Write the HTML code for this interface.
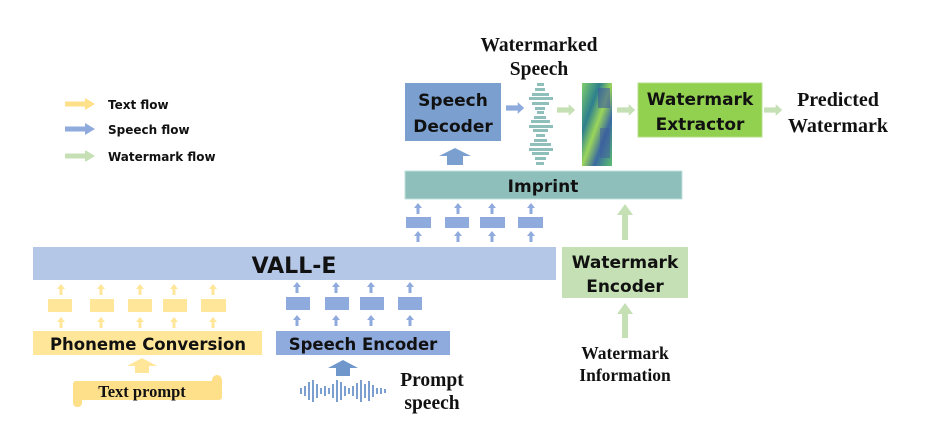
<!DOCTYPE html>
<html><head><meta charset="utf-8"><style>
html,body{margin:0;padding:0;background:#fff;}
svg{display:block}
.s{font-family:"DejaVu Sans","Liberation Sans",sans-serif;font-weight:bold;fill:#111}
.r{font-family:"Liberation Serif",serif;font-weight:bold;fill:#111}
</style></head><body>
<svg width="931" height="445" viewBox="0 0 931 445" xmlns="http://www.w3.org/2000/svg">
<defs>
<g id="ua"><polygon points="0,0 4,5 1.5,5 1.5,11 -1.5,11 -1.5,5 -4,5"/></g>
<g id="ra"><polygon points="0,-2.5 20,-2.5 20,-6 30,0 20,6 20,2.5 0,2.5"/></g>
</defs>
<use href="#ra" x="65" y="104" fill="#ffe08a"/>
<use href="#ra" x="65" y="129" fill="#8faadc"/>
<use href="#ra" x="65" y="156" fill="#c5e0b4"/>
<text class="s" x="108" y="109" font-size="12">Text flow</text>
<text class="s" x="108" y="134" font-size="12">Speech flow</text>
<text class="s" x="108" y="161" font-size="12">Watermark flow</text>

<rect x="33" y="247" width="523" height="33" fill="#b4c7e7"/>
<text class="s" x="294" y="273" font-size="22" text-anchor="middle">VALL-E</text>

<g fill="#ffe699">
<rect x="48" y="299" width="24" height="13"/><rect x="90" y="299" width="24" height="13"/><rect x="128" y="299" width="24" height="13"/><rect x="163" y="299" width="24" height="13"/><rect x="201" y="299" width="25" height="13"/>
<use href="#ua" x="61" y="284"/><use href="#ua" x="101" y="284"/><use href="#ua" x="140" y="284"/><use href="#ua" x="174" y="284"/><use href="#ua" x="213" y="284"/>
<use href="#ua" x="61" y="317"/><use href="#ua" x="101" y="317"/><use href="#ua" x="140" y="317"/><use href="#ua" x="174" y="317"/><use href="#ua" x="213" y="317"/>
</g>
<g fill="#8faadc">
<rect x="286" y="297" width="24" height="13"/><rect x="325" y="297" width="24" height="13"/><rect x="360" y="297" width="24" height="13"/><rect x="398" y="297" width="24" height="13"/>
<use href="#ua" x="297" y="282"/><use href="#ua" x="336" y="282"/><use href="#ua" x="371" y="282"/><use href="#ua" x="410" y="282"/>
<use href="#ua" x="297" y="315"/><use href="#ua" x="336" y="315"/><use href="#ua" x="371" y="315"/><use href="#ua" x="410" y="315"/>
</g>

<rect x="33" y="331" width="229" height="24" fill="#ffe699"/>
<text class="s" x="148" y="350" font-size="16.5" text-anchor="middle">Phoneme Conversion</text>
<rect x="276" y="331" width="174" height="24" fill="#8faadc"/>
<text class="s" x="363" y="350" font-size="16.5" text-anchor="middle">Speech Encoder</text>

<polygon points="142,358 157,366 149,366 149,373 135,373 135,366 127,366" fill="#ffe699"/>
<polygon points="343,360 358,368 350,368 350,376 336,376 336,368 328,368" fill="#6f97cb"/>

<g fill="#ffe08a">
<rect x="73" y="381" width="149" height="19" rx="3"/>
<rect x="73" y="381" width="9" height="26" rx="4"/>
<rect x="212" y="375" width="10" height="22" rx="5"/>
</g>
<text class="r" x="142" y="397" font-size="16.5" text-anchor="middle">Text prompt</text>

<g fill="#7ba0d0">
<rect x="300" y="388" width="2" height="6"/><rect x="304" y="386" width="2" height="10"/><rect x="308" y="382" width="2" height="18"/><rect x="312" y="380" width="2" height="22"/><rect x="316" y="384" width="2" height="14"/><rect x="320" y="388" width="2" height="6"/><rect x="324" y="386" width="2" height="10"/><rect x="328" y="388" width="2" height="6"/><rect x="332" y="384" width="2" height="14"/><rect x="336" y="380" width="2" height="22"/><rect x="340" y="382" width="2" height="18"/><rect x="344" y="386" width="2" height="10"/><rect x="348" y="388" width="2" height="6"/><rect x="352" y="386" width="2" height="10"/><rect x="356" y="383" width="2" height="16"/><rect x="360" y="380" width="2" height="22"/><rect x="364" y="384" width="2" height="14"/><rect x="368" y="381" width="2" height="20"/><rect x="372" y="385" width="2" height="12"/><rect x="376" y="388" width="2" height="6"/><rect x="380" y="388" width="2" height="6"/><rect x="384" y="389" width="2" height="4"/>
</g>
<text class="r" x="432" y="386" font-size="19.5" text-anchor="middle">Prompt</text>
<text class="r" x="432" y="409" font-size="19.5" text-anchor="middle">speech</text>

<g fill="#8faadc">
<rect x="406" y="217" width="25" height="11"/><rect x="445" y="217" width="24" height="11"/><rect x="480" y="217" width="25" height="11"/><rect x="518" y="217" width="25" height="11"/>
<use href="#ua" x="418" y="203"/><use href="#ua" x="458" y="203"/><use href="#ua" x="492" y="203"/><use href="#ua" x="531" y="203"/>
<use href="#ua" x="418" y="231"/><use href="#ua" x="458" y="231"/><use href="#ua" x="492" y="231"/><use href="#ua" x="531" y="231"/>
</g>

<rect x="405" y="171" width="277" height="28" fill="#8fbfbb" stroke="#bfe0dc" stroke-width="1"/>
<text class="s" x="543" y="192" font-size="17" text-anchor="middle">Imprint</text>
<polygon points="455,148 471,156 463,156 463,165 447,165 447,156 439,156" fill="#7ba0d0"/>

<rect x="405" y="83" width="96" height="58" fill="#7ba0d0"/>
<text class="s" x="453" y="106" font-size="17" text-anchor="middle">Speech</text>
<text class="s" x="453" y="132" font-size="17" text-anchor="middle">Decoder</text>

<text class="r" x="539" y="51" font-size="19.5" text-anchor="middle">Watermarked</text>
<text class="r" x="539" y="75" font-size="19.5" text-anchor="middle">Speech</text>

<g transform="translate(506,108) scale(0.65)" fill="#8faadc"><polygon points="0,-4 18,-4 18,-9 28,0 18,9 18,4 0,4"/></g>
<g transform="translate(557,110) scale(0.65)" fill="#c5e0b4"><polygon points="0,-4 18,-4 18,-9 28,0 18,9 18,4 0,4"/></g>
<g transform="translate(617,110) scale(0.65)" fill="#c5e0b4"><polygon points="0,-4 18,-4 18,-9 28,0 18,9 18,4 0,4"/></g>
<g transform="translate(764,110) scale(0.65)" fill="#c5e0b4"><polygon points="0,-4 18,-4 18,-9 28,0 18,9 18,4 0,4"/></g>

<g fill="#8fbfbb">
<rect x="537" y="83" width="7" height="3"/><rect x="535" y="88" width="10" height="3"/><rect x="532" y="93" width="17" height="3"/><rect x="529" y="97" width="24" height="3"/><rect x="532" y="102" width="17" height="3"/><rect x="535" y="107" width="10" height="3"/><rect x="537" y="111" width="7" height="3"/><rect x="534" y="116" width="12" height="3"/><rect x="531" y="120" width="19" height="3"/><rect x="529" y="125" width="24" height="3"/><rect x="533" y="129" width="15" height="3"/><rect x="536" y="134" width="9" height="3"/><rect x="534" y="139" width="13" height="3"/><rect x="530" y="143" width="21" height="3"/><rect x="529" y="148" width="24" height="3"/><rect x="532" y="152" width="17" height="3"/><rect x="535" y="157" width="11" height="3"/><rect x="536" y="162" width="8" height="3"/>
</g>

<defs><linearGradient id="sp" x1="0" y1="0" x2="1" y2="1">
<stop offset="0" stop-color="#7fd06a"/><stop offset="0.3" stop-color="#2d7f8e"/><stop offset="0.5" stop-color="#9bd65a"/><stop offset="0.7" stop-color="#3b6aa0"/><stop offset="1" stop-color="#5cbf70"/></linearGradient></defs>
<rect x="582" y="83" width="30" height="83" fill="url(#sp)"/>
<rect x="598" y="88" width="12" height="20" fill="#3d5a9e" opacity="0.6"/>
<rect x="600" y="128" width="10" height="30" fill="#3d5a9e" opacity="0.5"/>

<rect x="638" y="83" width="124" height="54" fill="#92d050" stroke="#b6e08a"/>
<text class="s" x="700" y="105" font-size="17" text-anchor="middle">Watermark</text>
<text class="s" x="700" y="130" font-size="17" text-anchor="middle">Extractor</text>
<text class="r" x="838" y="106" font-size="20" text-anchor="middle">Predicted</text>
<text class="r" x="838" y="132" font-size="20" text-anchor="middle">Watermark</text>

<rect x="562" y="247" width="126" height="51" fill="#c5e0b4"/>
<text class="s" x="625" y="268" font-size="17" text-anchor="middle">Watermark</text>
<text class="s" x="625" y="292" font-size="17" text-anchor="middle">Encoder</text>
<polygon points="625,204 633,215 628,215 628,240 622,240 622,215 617,215" fill="#c5e0b4"/>
<polygon points="625,303 633,314 628,314 628,338 622,338 622,314 617,314" fill="#c5e0b4"/>
<text class="r" x="625" y="359" font-size="17.5" text-anchor="middle">Watermark</text>
<text class="r" x="625" y="381" font-size="17.5" text-anchor="middle">Information</text>
</svg>
</body></html>
